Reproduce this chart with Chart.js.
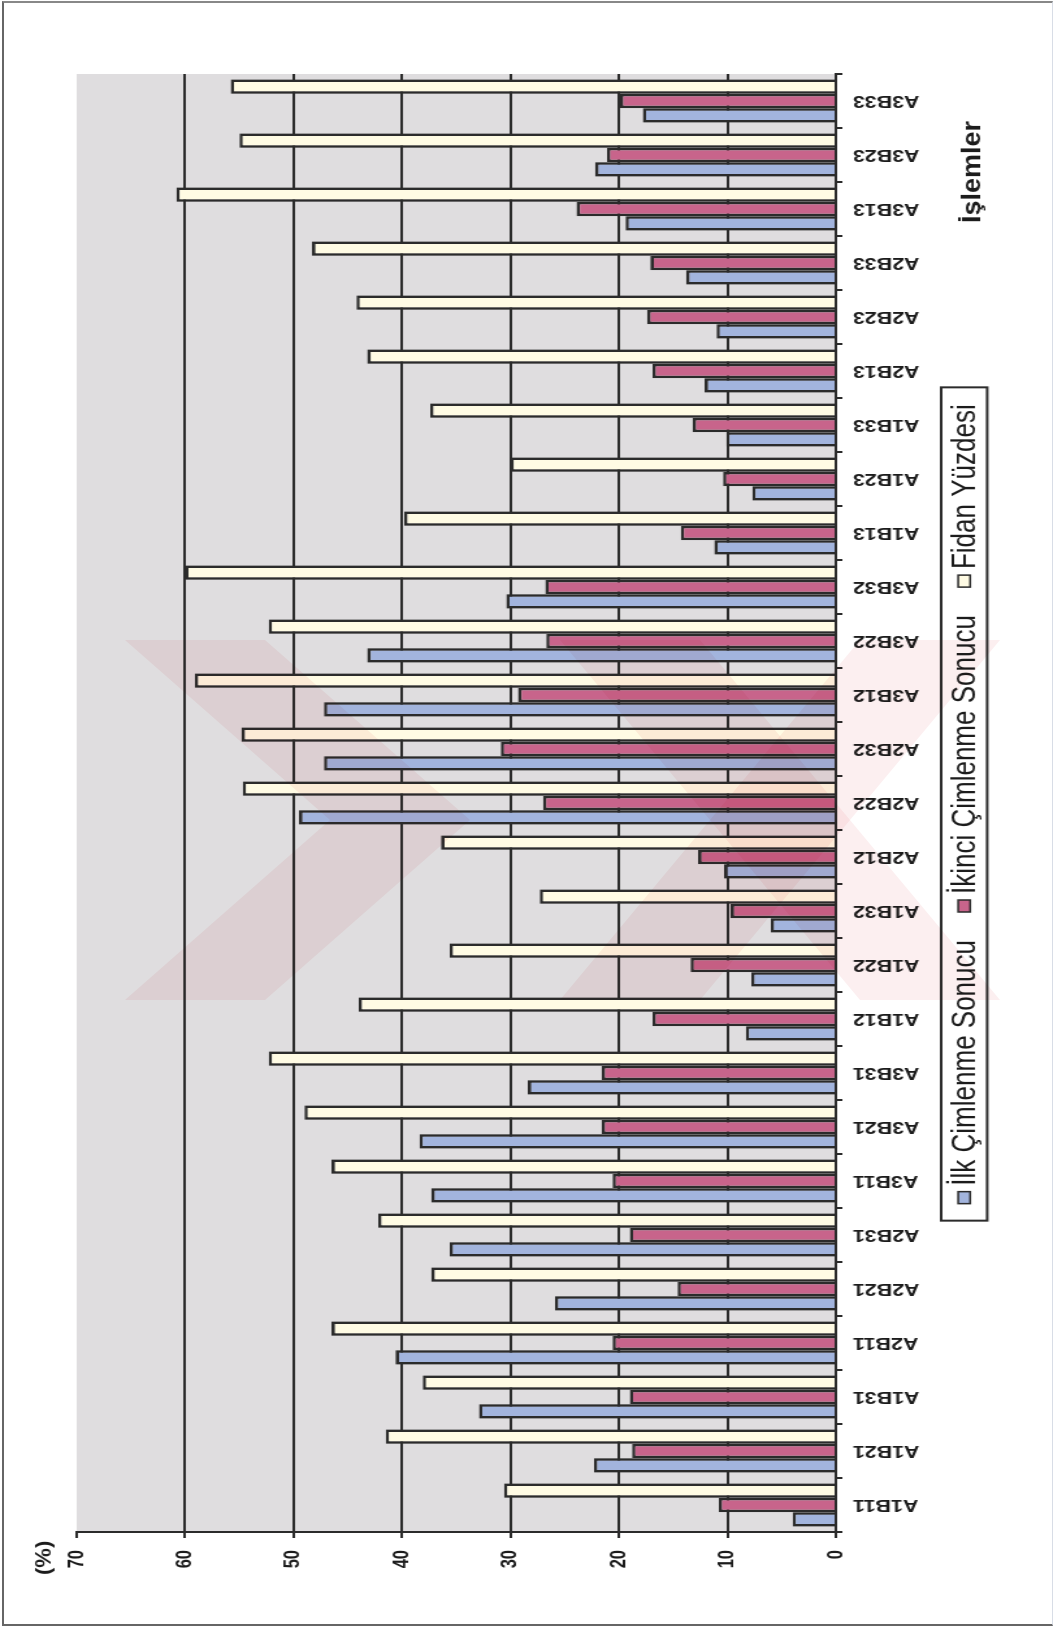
<!DOCTYPE html>
<html lang="tr">
<head>
<meta charset="utf-8">
<title>İşlemler - Çimlenme ve Fidan Yüzdeleri</title>
<script src="https://cdn.jsdelivr.net/npm/chart.js@4.4.1/dist/chart.umd.min.js"></script>
<style>
  html, body { margin: 0; padding: 0; background: #fff; }
  #sayfa { position: relative; width: 1056px; height: 1630px; overflow: hidden; background: #fff; }
  /* grafik yatay çizilip sayfaya döndürülerek yerleştiriliyor; dikeyde 1.3 kat uzatılmış */
  #grafik { position: absolute; left: 0; top: 0; transform-origin: 0 0;
            transform: translate(0, 1630px) rotate(-90deg) scaleY(1.3); }
  #damga { position: absolute; left: 0; top: 0; pointer-events: none; mix-blend-mode: multiply; }
  #cerceve { position: absolute; left: 2px; top: 1px; right: 3px; bottom: 4px;
             border-left: 2px solid #666; border-top: 2px solid #888; border-bottom: 2px solid #666; border-right: 1px solid #d8dde6; }
</style>
</head>
<body>
<div id="sayfa">
  <canvas id="grafik" width="1630" height="812"></canvas>
  <!-- soluk kırmızı filigran -->
  <svg id="damga" width="1056" height="1630" viewBox="0 0 1056 1630">
    <g fill="#e2505c" fill-opacity="0.095">
      <polygon points="125,640 265,640 470,820 265,1000 125,1000 330,820"/>
      <polygon points="560,640 700,640 1000,1000 860,1000"/>
      <polygon points="860,640 1000,640 700,1000 560,1000"/>
    </g>
  </svg>
  <div id="cerceve"></div>
</div>
<script>
// İşlem kodları (soldan sağa)
const islemler = ['A1B11', 'A1B21', 'A1B31', 'A2B11', 'A2B21', 'A2B31', 'A3B11', 'A3B21', 'A3B31',
                  'A1B12', 'A1B22', 'A1B32', 'A2B12', 'A2B22', 'A2B32', 'A3B12', 'A3B22', 'A3B32',
                  'A1B13', 'A1B23', 'A1B33', 'A2B13', 'A2B23', 'A2B33', 'A3B13', 'A3B23', 'A3B33'];

// % değerler
const ilkCimlenme = [4.0, 22.3, 32.9, 40.6, 25.9, 35.6, 37.3, 38.4, 28.4,
                     8.3, 7.8, 6.0, 10.3, 49.5, 47.2, 47.2, 43.2, 30.4,
                     11.2, 7.7, 10.1, 12.1, 11.0, 13.8, 19.4, 22.2, 17.8];
const ikinciCimlenme = [10.8, 18.8, 19.0, 20.6, 14.6, 19.0, 20.6, 21.6, 21.6,
                        16.9, 13.4, 9.7, 12.7, 27.0, 30.9, 29.3, 26.7, 26.8,
                        14.3, 10.4, 13.2, 16.9, 17.4, 17.1, 23.9, 21.1, 19.9];
const fidanYuzdesi = [30.6, 41.5, 38.1, 46.5, 37.3, 42.2, 46.5, 49.0, 52.3,
                      44.0, 35.6, 27.3, 36.4, 54.7, 54.8, 59.1, 52.3, 60.0,
                      39.8, 30.0, 37.4, 43.2, 44.2, 48.3, 60.8, 55.0, 55.8];

const degerTikleri = [0, 10, 20, 30, 40, 50, 60, 70];

const FONT = '"Liberation Sans", Arial, Helvetica, sans-serif';
const KOYU = '#2b2b2b';
const YAZI = '#1c1c1c';
const UZAMA = 1.3;   // canvas dikey uzatma oranı (CSS scaleY ile aynı)

Chart.defaults.font.family = FONT;
Chart.defaults.color = YAZI;

// çizim alanının gri zemini
const zemin = {
    id: 'zemin',
    beforeDraw(chart) {
        const { ctx, chartArea: a } = chart;
        ctx.save();
        ctx.fillStyle = '#dfdddf';
        ctx.fillRect(a.left, a.top, a.right - a.left, a.bottom - a.top);
        ctx.restore();
    }
};

// uzatmadan etkilenmeyen düz yazı
function duzYazi(ctx, metin, x, y) {
    ctx.save();
    ctx.translate(x, y);
    ctx.scale(1, 1 / UZAMA);
    ctx.fillText(metin, 0, 0);
    ctx.restore();
}

// çerçeveli açıklama kutusu ve eksen başlıkları
const aciklama = {
    id: 'aciklama',
    afterDraw(chart) {
        const ctx = chart.ctx;
        const a = chart.chartArea;
        const sets = chart.data.datasets;
        ctx.save();
        ctx.font = '26px ' + FONT;
        const kutuG = 12, kutuY = 12 / UZAMA, bosluk = 6, ogeArasi = 28, icPay = 17;
        const genislik = sets.map(d => ctx.measureText(d.label).width);
        const toplam = icPay * 2 + sets.length * (kutuG + bosluk) +
            genislik.reduce((t, g) => t + g, 0) + ogeArasi * (sets.length - 1);
        const orta = 826, ust = 724, yuk = 35.4;
        let x = orta - toplam / 2;
        ctx.lineWidth = 2;
        ctx.strokeStyle = KOYU;
        ctx.strokeRect(x, ust, toplam, yuk);
        x += icPay;
        const yOrta = ust + yuk / 2;
        ctx.textBaseline = 'middle';
        ctx.textAlign = 'left';
        sets.forEach((d, i) => {
            ctx.fillStyle = d.backgroundColor;
            ctx.fillRect(x, yOrta - kutuY / 2, kutuG, kutuY);
            ctx.lineWidth = 1.5;
            ctx.strokeRect(x, yOrta - kutuY / 2, kutuG, kutuY);
            x += kutuG + bosluk;
            ctx.fillStyle = YAZI;
            ctx.fillText(d.label, x, yOrta + 1);
            x += genislik[i] + ogeArasi;
        });

        ctx.font = 'bold 27px ' + FONT;
        ctx.textAlign = 'center';
        duzYazi(ctx, 'İşlemler', a.right - 98, 748);

        ctx.font = 'bold 22px ' + FONT;
        ctx.textAlign = 'left';
        duzYazi(ctx, '(%)', 55, 34);
        ctx.restore();
    }
};

const cubuk = (label, data, renk) => ({
    label: label,
    data: data,
    backgroundColor: renk,
    borderColor: KOYU,
    borderWidth: 2.6,
    categoryPercentage: 0.8,
    barPercentage: 1.0
});

new Chart(document.getElementById('grafik'), {
    type: 'bar',
    data: {
        labels: islemler,
        datasets: [
            cubuk('İlk Çimlenme Sonucu', ilkCimlenme, '#a2b4dd'),
            cubuk('İkinci Çimlenme Sonucu', ikinciCimlenme, '#c8648b'),
            cubuk('Fidan Yüzdesi', fidanYuzdesi, '#fffbe4')
        ]
    },
    options: {
        responsive: false,
        animation: false,
        layout: { padding: { top: 59, right: 74, bottom: 0, left: 0 } },
        plugins: {
            legend: { display: false },
            tooltip: { enabled: false },
            title: { display: false }
        },
        scales: {
            x: {
                offset: true,
                grid: {
                    offset: true,
                    drawOnChartArea: false,
                    drawTicks: true,
                    tickLength: 5,
                    color: KOYU,
                    lineWidth: 2
                },
                border: { display: true, color: KOYU, width: 2 },
                ticks: {
                    autoSkip: false,
                    minRotation: 90,
                    maxRotation: 90,
                    padding: 8,
                    color: YAZI,
                    font: { size: 16.5, weight: 'bold' }
                },
                afterFit(scale) { scale.height = 169; }
            },
            y: {
                min: 0,
                max: 70,
                afterBuildTicks(scale) {
                    scale.ticks = degerTikleri.map(v => ({ value: v }));
                },
                ticks: {
                    padding: 12,
                    color: YAZI,
                    font: { size: 16.5, weight: 'bold' }
                },
                grid: {
                    color: c => (c.tick && (c.tick.value === 0 || c.tick.value === 70)) ? 'rgba(0,0,0,0)' : KOYU,
                    tickColor: KOYU,
                    lineWidth: 2,
                    tickLength: 6
                },
                border: { display: true, color: KOYU, width: 2 },
                afterFit(scale) { scale.width = 98; }
            }
        }
    },
    plugins: [zemin, aciklama]
});
</script>
</body>
</html>
